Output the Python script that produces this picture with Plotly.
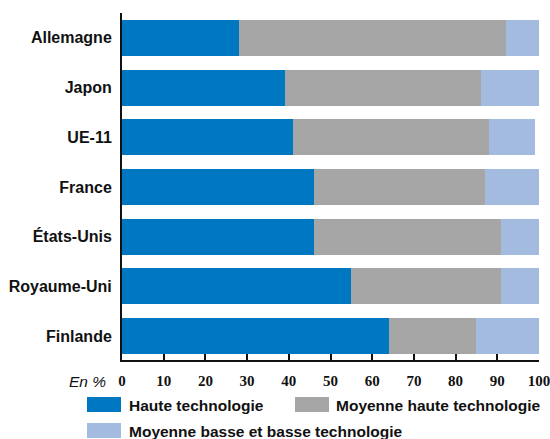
import plotly.graph_objects as go

# Data (part of each category in %)
pays = ["Allemagne", "Japon", "UE-11", "France", "États-Unis", "Royaume-Uni", "Finlande"]
haute = [28, 39, 41, 46, 46, 55, 64]
moyenne_haute = [64, 47, 47, 41, 45, 36, 21]
moyenne_basse = [8, 14, 11, 13, 9, 9, 15]

series = ["Haute technologie", "Moyenne haute technologie",
          "Moyenne basse et basse technologie"]
colors = ["#0078C1", "#A6A6A6", "#A3BBDF"]
tick_vals = [0, 10, 20, 30, 40, 50, 60, 70, 80, 90, 100]

W, H = 550, 439
ml, mr, mt, mb = 122, 11, 13, 79
pw, ph = W - ml - mr, H - mt - mb


def px(x):
    return (x - ml) / pw


def py(y):
    return (H - mb - y) / ph


fig = go.Figure()
for name, vals, col in zip(series, [haute, moyenne_haute, moyenne_basse], colors):
    fig.add_trace(go.Bar(
        y=pays, x=vals, name=name, orientation="h",
        marker=dict(color=col, line=dict(width=0)),
        width=0.725, hoverinfo="x+y+name"
    ))

# custom legend below the chart
legend_items = [
    (87, 397, 127, 405),
    (295, 397, 334, 405),
    (87, 423, 127, 431),
]
for (bx, by, tx, ty), name, col in zip(legend_items, series, colors):
    fig.add_shape(type="rect", xref="paper", yref="paper",
                  x0=px(bx), x1=px(bx + 34), y0=py(by), y1=py(by + 15),
                  fillcolor=col, line=dict(width=0))
    fig.add_annotation(xref="paper", yref="paper", x=px(tx), y=py(ty),
                       text=name, showarrow=False, xanchor="left", yanchor="middle",
                       font=dict(family="Liberation Sans", size=15.5, color="#111111",
                                 weight="bold"))

fig.add_annotation(xref="paper", yref="paper", x=px(108), y=py(381),
                   text="<i>En %</i>", showarrow=False, xanchor="right", yanchor="middle",
                   font=dict(family="Liberation Sans", size=15.5, color="#111111"))

fig.update_layout(
    barmode="stack",
    width=W, height=H,
    margin=dict(l=ml, r=mr, t=mt, b=mb, autoexpand=False),
    plot_bgcolor="white", paper_bgcolor="white",
    showlegend=False,
    xaxis=dict(
        range=[0, 100], tickvals=tick_vals, ticks="inside", ticklen=6, tickwidth=2,
        tickcolor="#111111", showline=True, linecolor="#111111", linewidth=2,
        showgrid=False, zeroline=False, ticklabelstandoff=6, automargin=False,
        ticklabeloverflow="allow",
        tickfont=dict(family="Liberation Sans Narrow", size=15, color="#111111",
                      weight="bold"),
    ),
    yaxis=dict(
        categoryorder="array", categoryarray=pays, range=[6.48, -0.5],
        showline=True, linecolor="#111111", linewidth=2, ticks="",
        showgrid=False, zeroline=False, ticklabelstandoff=5, automargin=False,
        tickfont=dict(family="Liberation Sans", size=16, color="#111111",
                      weight="bold"),
    ),
)

# remove the page's default body margin so the figure sits at the window's corner
fig.write_html("out.html", config={"displayModeBar": False},
               post_script="document.body.style.margin='0';")
